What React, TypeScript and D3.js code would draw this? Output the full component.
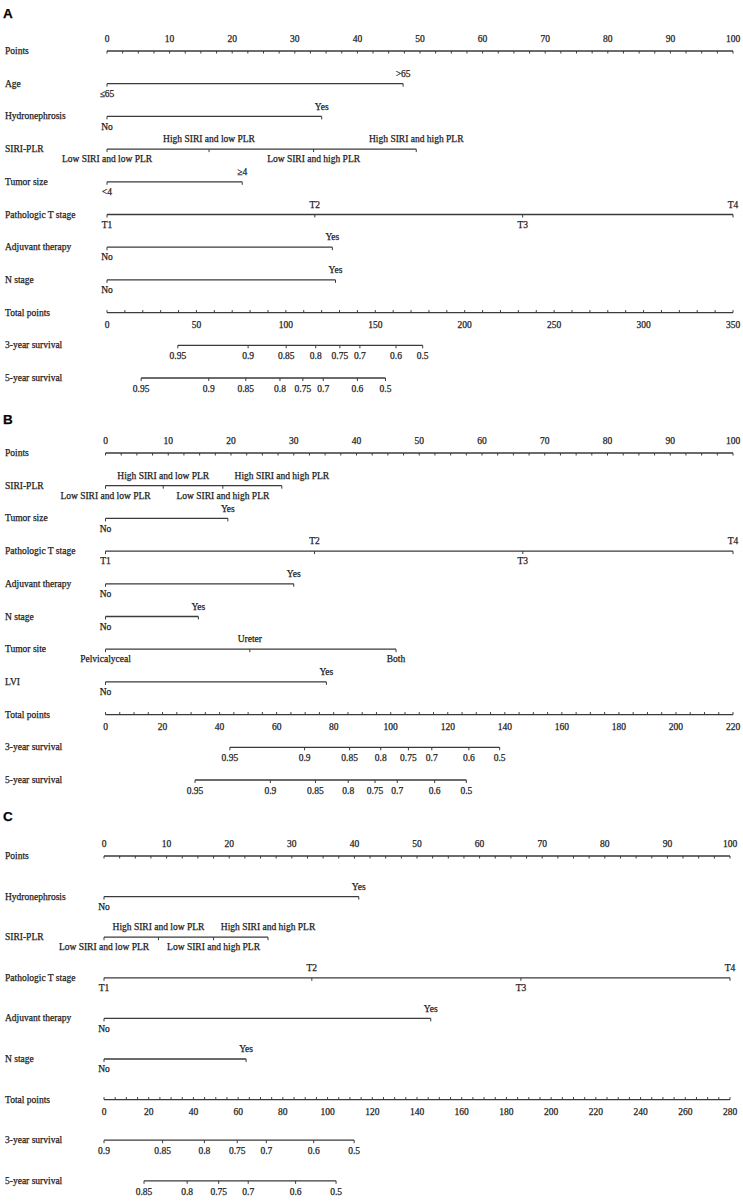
import React from "react";
import * as d3 from "d3";

// ---------- Panel A ----------
const A_vars = ["Age", "Hydronephrosis", "SIRI-PLR", "Tumor size", "Pathologic T stage", "Adjuvant therapy", "N stage"];
const A_levels = [
  ["≤65", ">65"],
  ["No", "Yes"],
  ["Low SIRI and low PLR", "High SIRI and low PLR", "Low SIRI and high PLR", "High SIRI and high PLR"],
  ["<4", "≥4"],
  ["T1", "T2", "T3", "T4"],
  ["No", "Yes"],
  ["No", "Yes"],
];
const A_points = [[0, 47.3], [0, 34.3], [0, 16.3, 33.0, 49.4], [0, 21.6], [0, 33.2, 66.4, 100], [0, 36.0], [0, 36.5]];
const A_totalTicks = [0, 50, 100, 150, 200, 250, 300, 350];
const A_totalMinorStep = 10;
const A_surv3Labels = ["0.95", "0.9", "0.85", "0.8", "0.75", "0.7", "0.6", "0.5"];
const A_surv3Totals = [39.6, 78.9, 100.2, 116.7, 130.2, 141.4, 161.6, 176.5];
const A_surv5Labels = ["0.95", "0.9", "0.85", "0.8", "0.75", "0.7", "0.6", "0.5"];
const A_surv5Totals = [19.1, 56.9, 77.6, 96.7, 109.5, 120.9, 140.0, 155.7];

// ---------- Panel B ----------
const B_vars = ["SIRI-PLR", "Tumor size", "Pathologic T stage", "Adjuvant therapy", "N stage", "Tumor site", "LVI"];
const B_levels = [
  ["Low SIRI and low PLR", "High SIRI and low PLR", "Low SIRI and high PLR", "High SIRI and high PLR"],
  ["No", "Yes"],
  ["T1", "T2", "T3", "T4"],
  ["No", "Yes"],
  ["No", "Yes"],
  ["Pelvicalyceal", "Ureter", "Both"],
  ["No", "Yes"],
];
const B_points = [[0, 9.2, 18.7, 28.1], [0, 19.5], [0, 33.3, 66.5, 100], [0, 30.0], [0, 14.8], [0, 23.0, 46.3], [0, 35.2]];
const B_totalTicks = [0, 20, 40, 60, 80, 100, 120, 140, 160, 180, 200, 220];
const B_totalMinorStep = 5;
const B_surv3Labels = ["0.95", "0.9", "0.85", "0.8", "0.75", "0.7", "0.6", "0.5"];
const B_surv3Totals = [43.6, 69.8, 85.6, 96.5, 106.2, 114.4, 127.4, 138.2];
const B_surv5Labels = ["0.95", "0.9", "0.85", "0.8", "0.75", "0.7", "0.6", "0.5"];
const B_surv5Totals = [31.4, 57.8, 73.6, 85.1, 94.5, 102.3, 115.4, 126.5];

// ---------- Panel C ----------
const C_vars = ["Hydronephrosis", "SIRI-PLR", "Pathologic T stage", "Adjuvant therapy", "N stage"];
const C_levels = [
  ["No", "Yes"],
  ["Low SIRI and low PLR", "High SIRI and low PLR", "Low SIRI and high PLR", "High SIRI and high PLR"],
  ["T1", "T2", "T3", "T4"],
  ["No", "Yes"],
  ["No", "Yes"],
];
const C_points = [[0, 40.7], [0, 8.7, 17.5, 26.2], [0, 33.2, 66.6, 100], [0, 52.2], [0, 22.7]];
const C_totalTicks = [0, 20, 40, 60, 80, 100, 120, 140, 160, 180, 200, 220, 240, 260, 280];
const C_totalMinorStep = 5;
const C_surv3Labels = ["0.9", "0.85", "0.8", "0.75", "0.7", "0.6", "0.5"];
const C_surv3Totals = [0, 26.2, 44.9, 59.6, 72.6, 93.8, 111.9];
const C_surv5Labels = ["0.85", "0.8", "0.75", "0.7", "0.6", "0.5"];
const C_surv5Totals = [17.9, 37.2, 51.3, 64.5, 85.7, 103.8];

const pointTicks = d3.range(0, 101, 10);
const pointMinorStep = 2.5;

const panels = [
  { letter: "A", letterY: 18, top: 51, step: 32.7, x0: 107, x1: 733, vars: A_vars, levels: A_levels, points: A_points,
    totalTicks: A_totalTicks, minor: A_totalMinorStep, s3l: A_surv3Labels, s3t: A_surv3Totals, s5l: A_surv5Labels, s5t: A_surv5Totals },
  { letter: "B", letterY: 424, top: 453, step: 32.7, x0: 105.5, x1: 733, vars: B_vars, levels: B_levels, points: B_points,
    totalTicks: B_totalTicks, minor: B_totalMinorStep, s3l: B_surv3Labels, s3t: B_surv3Totals, s5l: B_surv5Labels, s5t: B_surv5Totals },
  { letter: "C", letterY: 821, top: 856, step: 40.6, x0: 104, x1: 730, vars: C_vars, levels: C_levels, points: C_points,
    totalTicks: C_totalTicks, minor: C_totalMinorStep, s3l: C_surv3Labels, s3t: C_surv3Totals, s5l: C_surv5Labels, s5t: C_surv5Totals },
];

const FONT = "'Liberation Serif', 'Times New Roman', serif";
const TXT = "#1e1e1e";
const LINE = "#3a3a3a";
const FS = 9.5;
const TICK = 3;

function Panel({ p }: { p: any }) {
  const xP = d3.scaleLinear().domain([0, 100]).range([p.x0, p.x1]);
  const tMax = p.totalTicks[p.totalTicks.length - 1];
  const xT = d3.scaleLinear().domain([0, tMax]).range([p.x0, p.x1]);
  const rowY = (i: number) => p.top + i * p.step;
  const nVars = p.vars.length;
  const yTotal = rowY(nVars + 1);
  const y3 = rowY(nVars + 2);
  const y5 = rowY(nVars + 3);
  const minorP = d3.range(0, 100 + 1e-9, pointMinorStep);
  const minorT = d3.range(0, tMax + 1e-9, p.minor);

  const survAxis = (labels: string[], totals: number[], y: number, name: string) => (
    <g>
      <text x={5} y={y + 3} fontSize={FS} fill={TXT}>{name}</text>
      <line x1={xT(d3.min(totals) as number)} x2={xT(d3.max(totals) as number)} y1={y} y2={y} stroke={LINE} strokeWidth={1.3} />
      {totals.map((t, i) => (
        <g key={i}>
          <line x1={xT(t)} x2={xT(t)} y1={y} y2={y + TICK} stroke={LINE} strokeWidth={1} />
          <text x={xT(t)} y={y + 14} fontSize={FS} fill={TXT} textAnchor="middle">{labels[i]}</text>
        </g>
      ))}
    </g>
  );

  return (
    <g fontFamily={FONT} stroke="none">
      <text x={3} y={p.letterY} fontFamily="'Liberation Sans', Arial, sans-serif" fontWeight="bold" fontSize={13.5} fill="#000">{p.letter}</text>
      {/* Points axis */}
      <text x={5} y={rowY(0) + 3} fontSize={FS} fill={TXT}>Points</text>
      <line x1={xP(0)} x2={xP(100)} y1={rowY(0)} y2={rowY(0)} stroke={LINE} strokeWidth={1.3} />
      {minorP.map((v, i) => (
        <line key={i} x1={xP(v)} x2={xP(v)} y1={rowY(0)} y2={rowY(0) + 2.5} stroke={LINE} strokeWidth={1} />
      ))}
      {pointTicks.map((v) => (
        <text key={v} x={xP(v)} y={rowY(0) - 8.8} fontSize={FS} fill={TXT} textAnchor="middle">{v}</text>
      ))}
      {/* Variables */}
      {p.vars.map((name: string, i: number) => {
        const y = rowY(i + 1);
        const pts: number[] = p.points[i];
        const lv: string[] = p.levels[i];
        return (
          <g key={name}>
            <text x={5} y={y + 3} fontSize={FS} fill={TXT}>{name}</text>
            <line x1={xP(d3.min(pts) as number)} x2={xP(d3.max(pts) as number)} y1={y} y2={y} stroke={LINE} strokeWidth={1.3} />
            {pts.map((v, j) => (
              <g key={j}>
                <line x1={xP(v)} x2={xP(v)} y1={y} y2={y + TICK} stroke={LINE} strokeWidth={1} />
                <text x={xP(v)} y={j % 2 === 0 ? y + 13.2 : y - 6.8} fontSize={FS} fill={TXT} textAnchor="middle">{lv[j]}</text>
              </g>
            ))}
          </g>
        );
      })}
      {/* Total points */}
      <text x={5} y={yTotal + 3} fontSize={FS} fill={TXT}>Total points</text>
      <line x1={xT(0)} x2={xT(tMax)} y1={yTotal} y2={yTotal} stroke={LINE} strokeWidth={1.3} />
      {minorT.map((v, i) => (
        <line key={i} x1={xT(v)} x2={xT(v)} y1={yTotal} y2={yTotal - 2.5} stroke={LINE} strokeWidth={1} />
      ))}
      {p.totalTicks.map((v: number) => (
        <text key={v} x={xT(v)} y={yTotal + 15.2} fontSize={FS} fill={TXT} textAnchor="middle">{v}</text>
      ))}
      {survAxis(p.s3l, p.s3t, y3, "3-year survival")}
      {survAxis(p.s5l, p.s5t, y5, "5-year survival")}
    </g>
  );
}

export default function App() {
  return (
    <svg width={743} height={1203} style={{ position: "absolute", left: 0, top: 0, background: "#fff", display: "block" }}>
      <style>{`text { stroke: #1e1e1e; stroke-width: 0.25px; }`}</style>
      <rect x={0} y={0} width={743} height={1203} fill="#fff" />
      {panels.map((p) => (
        <Panel key={p.letter} p={p} />
      ))}
    </svg>
  );
}
